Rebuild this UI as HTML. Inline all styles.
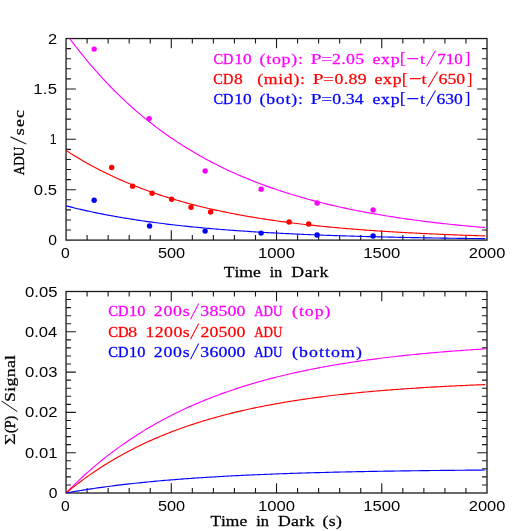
<!DOCTYPE html>
<html><head><meta charset="utf-8"><title>Persistence decay</title>
<style>html,body{margin:0;padding:0;background:#fff}svg{display:block;will-change:transform}text{font-family:"Liberation Serif",serif;font-kerning:none;white-space:pre}text.s{font-family:"Liberation Sans",sans-serif}</style></head><body>
<svg width="531" height="531" viewBox="0 0 531 531">
<rect width="531" height="531" fill="#fff"/>
<defs><clipPath id="c1"><rect x="66.05" y="38.55" width="420.95" height="201.55"/></clipPath><clipPath id="c2"><rect x="66.05" y="291.5" width="420.95" height="201.5"/></clipPath></defs>
<path d="M87.10,240.1v-5.0M87.10,38.55v5.0M108.14,240.1v-5.0M108.14,38.55v5.0M129.19,240.1v-5.0M129.19,38.55v5.0M150.24,240.1v-5.0M150.24,38.55v5.0M171.29,240.1v-9.8M171.29,38.55v9.8M192.33,240.1v-5.0M192.33,38.55v5.0M213.38,240.1v-5.0M213.38,38.55v5.0M234.43,240.1v-5.0M234.43,38.55v5.0M255.48,240.1v-5.0M255.48,38.55v5.0M276.52,240.1v-9.8M276.52,38.55v9.8M297.57,240.1v-5.0M297.57,38.55v5.0M318.62,240.1v-5.0M318.62,38.55v5.0M339.67,240.1v-5.0M339.67,38.55v5.0M360.72,240.1v-5.0M360.72,38.55v5.0M381.76,240.1v-9.8M381.76,38.55v9.8M402.81,240.1v-5.0M402.81,38.55v5.0M423.86,240.1v-5.0M423.86,38.55v5.0M444.91,240.1v-5.0M444.91,38.55v5.0M465.95,240.1v-5.0M465.95,38.55v5.0M66.05,230.02h5.0M487.0,230.02h-5.0M66.05,219.94h5.0M487.0,219.94h-5.0M66.05,209.87h5.0M487.0,209.87h-5.0M66.05,199.79h5.0M487.0,199.79h-5.0M66.05,189.71h9.8M487.0,189.71h-9.8M66.05,179.63h5.0M487.0,179.63h-5.0M66.05,169.56h5.0M487.0,169.56h-5.0M66.05,159.48h5.0M487.0,159.48h-5.0M66.05,149.40h5.0M487.0,149.40h-5.0M66.05,139.32h9.8M487.0,139.32h-9.8M66.05,129.25h5.0M487.0,129.25h-5.0M66.05,119.17h5.0M487.0,119.17h-5.0M66.05,109.09h5.0M487.0,109.09h-5.0M66.05,99.01h5.0M487.0,99.01h-5.0M66.05,88.94h9.8M487.0,88.94h-9.8M66.05,78.86h5.0M487.0,78.86h-5.0M66.05,68.78h5.0M487.0,68.78h-5.0M66.05,58.70h5.0M487.0,58.70h-5.0M66.05,48.63h5.0M487.0,48.63h-5.0" stroke="#1a1a1a" stroke-width="1.1" fill="none"/>
<rect x="66.05" y="38.55" width="420.95" height="201.55" fill="none" stroke="#1a1a1a" stroke-width="1.3"/>
<path d="M87.10,493.0v-5.0M87.10,291.5v5.0M108.14,493.0v-5.0M108.14,291.5v5.0M129.19,493.0v-5.0M129.19,291.5v5.0M150.24,493.0v-5.0M150.24,291.5v5.0M171.29,493.0v-9.8M171.29,291.5v9.8M192.33,493.0v-5.0M192.33,291.5v5.0M213.38,493.0v-5.0M213.38,291.5v5.0M234.43,493.0v-5.0M234.43,291.5v5.0M255.48,493.0v-5.0M255.48,291.5v5.0M276.52,493.0v-9.8M276.52,291.5v9.8M297.57,493.0v-5.0M297.57,291.5v5.0M318.62,493.0v-5.0M318.62,291.5v5.0M339.67,493.0v-5.0M339.67,291.5v5.0M360.72,493.0v-5.0M360.72,291.5v5.0M381.76,493.0v-9.8M381.76,291.5v9.8M402.81,493.0v-5.0M402.81,291.5v5.0M423.86,493.0v-5.0M423.86,291.5v5.0M444.91,493.0v-5.0M444.91,291.5v5.0M465.95,493.0v-5.0M465.95,291.5v5.0M66.05,484.94h5.0M487.0,484.94h-5.0M66.05,476.88h5.0M487.0,476.88h-5.0M66.05,468.82h5.0M487.0,468.82h-5.0M66.05,460.76h5.0M487.0,460.76h-5.0M66.05,452.70h9.8M487.0,452.70h-9.8M66.05,444.64h5.0M487.0,444.64h-5.0M66.05,436.58h5.0M487.0,436.58h-5.0M66.05,428.52h5.0M487.0,428.52h-5.0M66.05,420.46h5.0M487.0,420.46h-5.0M66.05,412.40h9.8M487.0,412.40h-9.8M66.05,404.34h5.0M487.0,404.34h-5.0M66.05,396.28h5.0M487.0,396.28h-5.0M66.05,388.22h5.0M487.0,388.22h-5.0M66.05,380.16h5.0M487.0,380.16h-5.0M66.05,372.10h9.8M487.0,372.10h-9.8M66.05,364.04h5.0M487.0,364.04h-5.0M66.05,355.98h5.0M487.0,355.98h-5.0M66.05,347.92h5.0M487.0,347.92h-5.0M66.05,339.86h5.0M487.0,339.86h-5.0M66.05,331.80h9.8M487.0,331.80h-9.8M66.05,323.74h5.0M487.0,323.74h-5.0M66.05,315.68h5.0M487.0,315.68h-5.0M66.05,307.62h5.0M487.0,307.62h-5.0M66.05,299.56h5.0M487.0,299.56h-5.0" stroke="#1a1a1a" stroke-width="1.1" fill="none"/>
<rect x="66.05" y="291.5" width="420.95" height="201.5" fill="none" stroke="#1a1a1a" stroke-width="1.3"/>
<path d="M66.05,33.51 L68.15,36.39 L70.24,39.23 L72.34,42.03 L74.44,44.78 L76.53,47.51 L78.63,50.19 L80.72,52.83 L82.82,55.44 L84.92,58.01 L87.01,60.55 L89.11,63.05 L91.21,65.52 L93.30,67.95 L95.40,70.35 L97.49,72.71 L99.59,75.04 L101.69,77.34 L103.78,79.61 L105.88,81.85 L107.98,84.05 L110.07,86.23 L112.17,88.37 L114.27,90.48 L116.36,92.57 L118.46,94.62 L120.55,96.65 L122.65,98.65 L124.75,100.62 L126.84,102.56 L128.94,104.48 L131.04,106.37 L133.13,108.23 L135.23,110.07 L137.33,111.88 L139.42,113.66 L141.52,115.42 L143.61,117.16 L145.71,118.87 L147.81,120.56 L149.90,122.23 L152.00,123.87 L154.10,125.49 L156.19,127.09 L158.29,128.66 L160.38,130.21 L162.48,131.74 L164.58,133.25 L166.67,134.74 L168.77,136.21 L170.87,137.66 L172.96,139.08 L175.06,140.49 L177.16,141.88 L179.25,143.25 L181.35,144.59 L183.44,145.93 L185.54,147.24 L187.64,148.53 L189.73,149.81 L191.83,151.06 L193.93,152.30 L196.02,153.53 L198.12,154.73 L200.22,155.92 L202.31,157.10 L204.41,158.25 L206.50,159.39 L208.60,160.52 L210.70,161.62 L212.79,162.72 L214.89,163.80 L216.99,164.86 L219.08,165.91 L221.18,166.94 L223.27,167.96 L225.37,168.96 L227.47,169.96 L229.56,170.93 L231.66,171.90 L233.76,172.85 L235.85,173.78 L237.95,174.71 L240.05,175.62 L242.14,176.52 L244.24,177.40 L246.33,178.28 L248.43,179.14 L250.53,179.99 L252.62,180.82 L254.72,181.65 L256.82,182.46 L258.91,183.27 L261.01,184.06 L263.11,184.84 L265.20,185.61 L267.30,186.37 L269.39,187.12 L271.49,187.85 L273.59,188.58 L275.68,189.30 L277.78,190.01 L279.88,190.70 L281.97,191.39 L284.07,192.07 L286.16,192.74 L288.26,193.40 L290.36,194.05 L292.45,194.69 L294.55,195.32 L296.65,195.95 L298.74,196.56 L300.84,197.17 L302.94,197.77 L305.03,198.36 L307.13,198.94 L309.22,199.51 L311.32,200.08 L313.42,200.64 L315.51,201.19 L317.61,201.73 L319.71,202.26 L321.80,202.79 L323.90,203.31 L326.00,203.82 L328.09,204.33 L330.19,204.82 L332.28,205.32 L334.38,205.80 L336.48,206.28 L338.57,206.75 L340.67,207.21 L342.77,207.67 L344.86,208.12 L346.96,208.57 L349.05,209.01 L351.15,209.44 L353.25,209.87 L355.34,210.29 L357.44,210.71 L359.54,211.11 L361.63,211.52 L363.73,211.92 L365.83,212.31 L367.92,212.70 L370.02,213.08 L372.11,213.45 L374.21,213.83 L376.31,214.19 L378.40,214.55 L380.50,214.91 L382.60,215.26 L384.69,215.61 L386.79,215.95 L388.88,216.28 L390.98,216.61 L393.08,216.94 L395.17,217.26 L397.27,217.58 L399.37,217.90 L401.46,218.21 L403.56,218.51 L405.66,218.81 L407.75,219.11 L409.85,219.40 L411.94,219.69 L414.04,219.97 L416.14,220.25 L418.23,220.53 L420.33,220.80 L422.43,221.07 L424.52,221.34 L426.62,221.60 L428.72,221.86 L430.81,222.11 L432.91,222.36 L435.00,222.61 L437.10,222.85 L439.20,223.09 L441.29,223.33 L443.39,223.56 L445.49,223.79 L447.58,224.02 L449.68,224.24 L451.77,224.46 L453.87,224.68 L455.97,224.90 L458.06,225.11 L460.16,225.32 L462.26,225.52 L464.35,225.73 L466.45,225.93 L468.55,226.12 L470.64,226.32 L472.74,226.51 L474.83,226.70 L476.93,226.89 L479.03,227.07 L481.12,227.25 L483.22,227.43 L485.32,227.61" fill="none" stroke="#ff00ff" stroke-width="1.15" stroke-linejoin="round" clip-path="url(#c1)"/>
<path d="M66.05,150.41 L68.15,151.77 L70.24,153.12 L72.34,154.44 L74.44,155.74 L76.53,157.03 L78.63,158.29 L80.72,159.53 L82.82,160.76 L84.92,161.96 L87.01,163.15 L89.11,164.32 L91.21,165.47 L93.30,166.61 L95.40,167.73 L97.49,168.83 L99.59,169.91 L101.69,170.98 L103.78,172.03 L105.88,173.06 L107.98,174.08 L110.07,175.09 L112.17,176.08 L114.27,177.05 L116.36,178.01 L118.46,178.95 L120.55,179.88 L122.65,180.80 L124.75,181.70 L126.84,182.59 L128.94,183.46 L131.04,184.32 L133.13,185.17 L135.23,186.01 L137.33,186.83 L139.42,187.64 L141.52,188.44 L143.61,189.22 L145.71,190.00 L147.81,190.76 L149.90,191.51 L152.00,192.25 L154.10,192.98 L156.19,193.69 L158.29,194.40 L160.38,195.09 L162.48,195.78 L164.58,196.45 L166.67,197.12 L168.77,197.77 L170.87,198.41 L172.96,199.05 L175.06,199.67 L177.16,200.29 L179.25,200.89 L181.35,201.49 L183.44,202.07 L185.54,202.65 L187.64,203.22 L189.73,203.78 L191.83,204.33 L193.93,204.88 L196.02,205.41 L198.12,205.94 L200.22,206.46 L202.31,206.97 L204.41,207.48 L206.50,207.97 L208.60,208.46 L210.70,208.94 L212.79,209.42 L214.89,209.88 L216.99,210.34 L219.08,210.79 L221.18,211.24 L223.27,211.68 L225.37,212.11 L227.47,212.54 L229.56,212.96 L231.66,213.37 L233.76,213.78 L235.85,214.18 L237.95,214.57 L240.05,214.96 L242.14,215.34 L244.24,215.72 L246.33,216.09 L248.43,216.45 L250.53,216.81 L252.62,217.17 L254.72,217.52 L256.82,217.86 L258.91,218.20 L261.01,218.53 L263.11,218.86 L265.20,219.18 L267.30,219.50 L269.39,219.81 L271.49,220.12 L273.59,220.42 L275.68,220.72 L277.78,221.02 L279.88,221.31 L281.97,221.59 L284.07,221.88 L286.16,222.15 L288.26,222.43 L290.36,222.69 L292.45,222.96 L294.55,223.22 L296.65,223.48 L298.74,223.73 L300.84,223.98 L302.94,224.22 L305.03,224.46 L307.13,224.70 L309.22,224.94 L311.32,225.17 L313.42,225.39 L315.51,225.62 L317.61,225.84 L319.71,226.06 L321.80,226.27 L323.90,226.48 L326.00,226.69 L328.09,226.89 L330.19,227.09 L332.28,227.29 L334.38,227.48 L336.48,227.68 L338.57,227.86 L340.67,228.05 L342.77,228.23 L344.86,228.41 L346.96,228.59 L349.05,228.77 L351.15,228.94 L353.25,229.11 L355.34,229.28 L357.44,229.44 L359.54,229.60 L361.63,229.76 L363.73,229.92 L365.83,230.07 L367.92,230.23 L370.02,230.38 L372.11,230.52 L374.21,230.67 L376.31,230.81 L378.40,230.95 L380.50,231.09 L382.60,231.23 L384.69,231.37 L386.79,231.50 L388.88,231.63 L390.98,231.76 L393.08,231.89 L395.17,232.01 L397.27,232.13 L399.37,232.25 L401.46,232.37 L403.56,232.49 L405.66,232.61 L407.75,232.72 L409.85,232.83 L411.94,232.94 L414.04,233.05 L416.14,233.16 L418.23,233.26 L420.33,233.37 L422.43,233.47 L424.52,233.57 L426.62,233.67 L428.72,233.77 L430.81,233.87 L432.91,233.96 L435.00,234.05 L437.10,234.15 L439.20,234.24 L441.29,234.33 L443.39,234.41 L445.49,234.50 L447.58,234.58 L449.68,234.67 L451.77,234.75 L453.87,234.83 L455.97,234.91 L458.06,234.99 L460.16,235.07 L462.26,235.15 L464.35,235.22 L466.45,235.30 L468.55,235.37 L470.64,235.44 L472.74,235.51 L474.83,235.58 L476.93,235.65 L479.03,235.72 L481.12,235.78 L483.22,235.85 L485.32,235.91" fill="none" stroke="#ff0000" stroke-width="1.15" stroke-linejoin="round" clip-path="url(#c1)"/>
<path d="M66.05,205.84 L68.15,206.37 L70.24,206.90 L72.34,207.42 L74.44,207.94 L76.53,208.44 L78.63,208.94 L80.72,209.43 L82.82,209.91 L84.92,210.38 L87.01,210.85 L89.11,211.31 L91.21,211.76 L93.30,212.20 L95.40,212.64 L97.49,213.07 L99.59,213.49 L101.69,213.91 L103.78,214.32 L105.88,214.73 L107.98,215.12 L110.07,215.52 L112.17,215.90 L114.27,216.28 L116.36,216.66 L118.46,217.02 L120.55,217.38 L122.65,217.74 L124.75,218.09 L126.84,218.44 L128.94,218.78 L131.04,219.11 L133.13,219.44 L135.23,219.76 L137.33,220.08 L139.42,220.40 L141.52,220.71 L143.61,221.01 L145.71,221.31 L147.81,221.60 L149.90,221.89 L152.00,222.18 L154.10,222.46 L156.19,222.74 L158.29,223.01 L160.38,223.28 L162.48,223.54 L164.58,223.80 L166.67,224.06 L168.77,224.31 L170.87,224.56 L172.96,224.80 L175.06,225.04 L177.16,225.28 L179.25,225.51 L181.35,225.74 L183.44,225.96 L185.54,226.19 L187.64,226.40 L189.73,226.62 L191.83,226.83 L193.93,227.04 L196.02,227.24 L198.12,227.44 L200.22,227.64 L202.31,227.84 L204.41,228.03 L206.50,228.22 L208.60,228.41 L210.70,228.59 L212.79,228.77 L214.89,228.95 L216.99,229.12 L219.08,229.30 L221.18,229.46 L223.27,229.63 L225.37,229.80 L227.47,229.96 L229.56,230.12 L231.66,230.27 L233.76,230.43 L235.85,230.58 L237.95,230.73 L240.05,230.88 L242.14,231.02 L244.24,231.16 L246.33,231.30 L248.43,231.44 L250.53,231.58 L252.62,231.71 L254.72,231.84 L256.82,231.97 L258.91,232.10 L261.01,232.22 L263.11,232.35 L265.20,232.47 L267.30,232.59 L269.39,232.71 L271.49,232.82 L273.59,232.94 L275.68,233.05 L277.78,233.16 L279.88,233.27 L281.97,233.38 L284.07,233.48 L286.16,233.59 L288.26,233.69 L290.36,233.79 L292.45,233.89 L294.55,233.98 L296.65,234.08 L298.74,234.17 L300.84,234.27 L302.94,234.36 L305.03,234.45 L307.13,234.54 L309.22,234.63 L311.32,234.71 L313.42,234.80 L315.51,234.88 L317.61,234.96 L319.71,235.04 L321.80,235.12 L323.90,235.20 L326.00,235.28 L328.09,235.35 L330.19,235.43 L332.28,235.50 L334.38,235.57 L336.48,235.64 L338.57,235.71 L340.67,235.78 L342.77,235.85 L344.86,235.92 L346.96,235.98 L349.05,236.05 L351.15,236.11 L353.25,236.17 L355.34,236.23 L357.44,236.29 L359.54,236.35 L361.63,236.41 L363.73,236.47 L365.83,236.53 L367.92,236.58 L370.02,236.64 L372.11,236.69 L374.21,236.75 L376.31,236.80 L378.40,236.85 L380.50,236.90 L382.60,236.95 L384.69,237.00 L386.79,237.05 L388.88,237.10 L390.98,237.14 L393.08,237.19 L395.17,237.24 L397.27,237.28 L399.37,237.33 L401.46,237.37 L403.56,237.41 L405.66,237.45 L407.75,237.50 L409.85,237.54 L411.94,237.58 L414.04,237.62 L416.14,237.66 L418.23,237.69 L420.33,237.73 L422.43,237.77 L424.52,237.81 L426.62,237.84 L428.72,237.88 L430.81,237.91 L432.91,237.95 L435.00,237.98 L437.10,238.01 L439.20,238.05 L441.29,238.08 L443.39,238.11 L445.49,238.14 L447.58,238.17 L449.68,238.20 L451.77,238.23 L453.87,238.26 L455.97,238.29 L458.06,238.32 L460.16,238.35 L462.26,238.37 L464.35,238.40 L466.45,238.43 L468.55,238.45 L470.64,238.48 L472.74,238.50 L474.83,238.53 L476.93,238.55 L479.03,238.58 L481.12,238.60 L483.22,238.63 L485.32,238.65" fill="none" stroke="#0000ff" stroke-width="1.15" stroke-linejoin="round" clip-path="url(#c1)"/>
<circle cx="94.14" cy="49.08" r="2.7" fill="#ff00ff"/>
<circle cx="149.16" cy="118.61" r="2.7" fill="#ff00ff"/>
<circle cx="205.14" cy="171.02" r="2.7" fill="#ff00ff"/>
<circle cx="261.13" cy="189.15" r="2.7" fill="#ff00ff"/>
<circle cx="317.12" cy="203.06" r="2.7" fill="#ff00ff"/>
<circle cx="373.10" cy="210.02" r="2.7" fill="#ff00ff"/>
<circle cx="111.69" cy="167.49" r="2.7" fill="#ff0000"/>
<circle cx="132.63" cy="186.13" r="2.7" fill="#ff0000"/>
<circle cx="152.10" cy="193.19" r="2.7" fill="#ff0000"/>
<circle cx="171.68" cy="199.23" r="2.7" fill="#ff0000"/>
<circle cx="191.04" cy="207.29" r="2.7" fill="#ff0000"/>
<circle cx="210.61" cy="212.03" r="2.7" fill="#ff0000"/>
<circle cx="289.12" cy="222.01" r="2.7" fill="#ff0000"/>
<circle cx="308.70" cy="224.02" r="2.7" fill="#ff0000"/>
<circle cx="94.14" cy="200.24" r="2.7" fill="#0000ff"/>
<circle cx="149.58" cy="226.04" r="2.7" fill="#0000ff"/>
<circle cx="205.14" cy="231.08" r="2.7" fill="#0000ff"/>
<circle cx="261.13" cy="233.09" r="2.7" fill="#0000ff"/>
<circle cx="317.12" cy="235.01" r="2.7" fill="#0000ff"/>
<circle cx="373.10" cy="236.02" r="2.7" fill="#0000ff"/>
<path d="M66.05,493.00 L68.15,490.86 L70.24,488.76 L72.34,486.68 L74.44,484.63 L76.53,482.61 L78.63,480.62 L80.72,478.65 L82.82,476.71 L84.92,474.80 L87.01,472.92 L89.11,471.06 L91.21,469.23 L93.30,467.42 L95.40,465.64 L97.49,463.89 L99.59,462.16 L101.69,460.45 L103.78,458.76 L105.88,457.10 L107.98,455.47 L110.07,453.85 L112.17,452.26 L114.27,450.69 L116.36,449.14 L118.46,447.62 L120.55,446.11 L122.65,444.63 L124.75,443.16 L126.84,441.72 L128.94,440.30 L131.04,438.90 L133.13,437.51 L135.23,436.15 L137.33,434.80 L139.42,433.48 L141.52,432.17 L143.61,430.88 L145.71,429.61 L147.81,428.35 L149.90,427.12 L152.00,425.90 L154.10,424.69 L156.19,423.51 L158.29,422.34 L160.38,421.19 L162.48,420.05 L164.58,418.93 L166.67,417.82 L168.77,416.73 L170.87,415.66 L172.96,414.60 L175.06,413.55 L177.16,412.52 L179.25,411.51 L181.35,410.50 L183.44,409.52 L185.54,408.54 L187.64,407.58 L189.73,406.63 L191.83,405.70 L193.93,404.78 L196.02,403.87 L198.12,402.98 L200.22,402.09 L202.31,401.22 L204.41,400.36 L206.50,399.52 L208.60,398.68 L210.70,397.86 L212.79,397.05 L214.89,396.24 L216.99,395.46 L219.08,394.68 L221.18,393.91 L223.27,393.15 L225.37,392.41 L227.47,391.67 L229.56,390.94 L231.66,390.23 L233.76,389.52 L235.85,388.83 L237.95,388.14 L240.05,387.47 L242.14,386.80 L244.24,386.14 L246.33,385.49 L248.43,384.85 L250.53,384.22 L252.62,383.60 L254.72,382.99 L256.82,382.38 L258.91,381.79 L261.01,381.20 L263.11,380.62 L265.20,380.05 L267.30,379.48 L269.39,378.93 L271.49,378.38 L273.59,377.84 L275.68,377.30 L277.78,376.78 L279.88,376.26 L281.97,375.75 L284.07,375.25 L286.16,374.75 L288.26,374.26 L290.36,373.78 L292.45,373.30 L294.55,372.83 L296.65,372.37 L298.74,371.91 L300.84,371.46 L302.94,371.02 L305.03,370.58 L307.13,370.15 L309.22,369.72 L311.32,369.30 L313.42,368.89 L315.51,368.48 L317.61,368.08 L319.71,367.68 L321.80,367.29 L323.90,366.90 L326.00,366.52 L328.09,366.14 L330.19,365.77 L332.28,365.41 L334.38,365.05 L336.48,364.70 L338.57,364.35 L340.67,364.00 L342.77,363.66 L344.86,363.32 L346.96,362.99 L349.05,362.67 L351.15,362.35 L353.25,362.03 L355.34,361.72 L357.44,361.41 L359.54,361.10 L361.63,360.80 L363.73,360.51 L365.83,360.22 L367.92,359.93 L370.02,359.65 L372.11,359.37 L374.21,359.09 L376.31,358.82 L378.40,358.55 L380.50,358.29 L382.60,358.03 L384.69,357.77 L386.79,357.52 L388.88,357.27 L390.98,357.02 L393.08,356.78 L395.17,356.54 L397.27,356.30 L399.37,356.07 L401.46,355.84 L403.56,355.61 L405.66,355.39 L407.75,355.17 L409.85,354.95 L411.94,354.74 L414.04,354.52 L416.14,354.32 L418.23,354.11 L420.33,353.91 L422.43,353.71 L424.52,353.51 L426.62,353.32 L428.72,353.13 L430.81,352.94 L432.91,352.75 L435.00,352.57 L437.10,352.39 L439.20,352.21 L441.29,352.03 L443.39,351.86 L445.49,351.69 L447.58,351.52 L449.68,351.35 L451.77,351.19 L453.87,351.03 L455.97,350.87 L458.06,350.71 L460.16,350.56 L462.26,350.40 L464.35,350.25 L466.45,350.10 L468.55,349.96 L470.64,349.81 L472.74,349.67 L474.83,349.53 L476.93,349.39 L479.03,349.25 L481.12,349.12 L483.22,348.99 L485.32,348.86" fill="none" stroke="#ff00ff" stroke-width="1.15" stroke-linejoin="round" clip-path="url(#c2)"/>
<path d="M66.05,493.00 L68.15,491.27 L70.24,489.57 L72.34,487.89 L74.44,486.24 L76.53,484.61 L78.63,483.01 L80.72,481.43 L82.82,479.88 L84.92,478.35 L87.01,476.84 L89.11,475.36 L91.21,473.90 L93.30,472.46 L95.40,471.04 L97.49,469.65 L99.59,468.27 L101.69,466.92 L103.78,465.59 L105.88,464.27 L107.98,462.98 L110.07,461.71 L112.17,460.46 L114.27,459.22 L116.36,458.01 L118.46,456.81 L120.55,455.63 L122.65,454.47 L124.75,453.32 L126.84,452.20 L128.94,451.09 L131.04,450.00 L133.13,448.92 L135.23,447.86 L137.33,446.82 L139.42,445.79 L141.52,444.78 L143.61,443.79 L145.71,442.80 L147.81,441.84 L149.90,440.89 L152.00,439.95 L154.10,439.03 L156.19,438.12 L158.29,437.22 L160.38,436.34 L162.48,435.48 L164.58,434.62 L166.67,433.78 L168.77,432.95 L170.87,432.13 L172.96,431.33 L175.06,430.54 L177.16,429.76 L179.25,428.99 L181.35,428.24 L183.44,427.49 L185.54,426.76 L187.64,426.04 L189.73,425.32 L191.83,424.62 L193.93,423.94 L196.02,423.26 L198.12,422.59 L200.22,421.93 L202.31,421.28 L204.41,420.64 L206.50,420.01 L208.60,419.39 L210.70,418.78 L212.79,418.18 L214.89,417.59 L216.99,417.01 L219.08,416.43 L221.18,415.87 L223.27,415.31 L225.37,414.76 L227.47,414.22 L229.56,413.69 L231.66,413.17 L233.76,412.65 L235.85,412.15 L237.95,411.65 L240.05,411.15 L242.14,410.67 L244.24,410.19 L246.33,409.72 L248.43,409.26 L250.53,408.80 L252.62,408.35 L254.72,407.91 L256.82,407.48 L258.91,407.05 L261.01,406.63 L263.11,406.21 L265.20,405.80 L267.30,405.40 L269.39,405.00 L271.49,404.61 L273.59,404.22 L275.68,403.84 L277.78,403.47 L279.88,403.10 L281.97,402.74 L284.07,402.38 L286.16,402.03 L288.26,401.69 L290.36,401.35 L292.45,401.01 L294.55,400.68 L296.65,400.35 L298.74,400.03 L300.84,399.72 L302.94,399.41 L305.03,399.10 L307.13,398.80 L309.22,398.50 L311.32,398.21 L313.42,397.92 L315.51,397.64 L317.61,397.36 L319.71,397.08 L321.80,396.81 L323.90,396.55 L326.00,396.28 L328.09,396.03 L330.19,395.77 L332.28,395.52 L334.38,395.27 L336.48,395.03 L338.57,394.79 L340.67,394.55 L342.77,394.32 L344.86,394.09 L346.96,393.87 L349.05,393.65 L351.15,393.43 L353.25,393.21 L355.34,393.00 L357.44,392.79 L359.54,392.59 L361.63,392.38 L363.73,392.18 L365.83,391.99 L367.92,391.79 L370.02,391.60 L372.11,391.42 L374.21,391.23 L376.31,391.05 L378.40,390.87 L380.50,390.69 L382.60,390.52 L384.69,390.35 L386.79,390.18 L388.88,390.02 L390.98,389.85 L393.08,389.69 L395.17,389.53 L397.27,389.38 L399.37,389.22 L401.46,389.07 L403.56,388.92 L405.66,388.78 L407.75,388.63 L409.85,388.49 L411.94,388.35 L414.04,388.21 L416.14,388.08 L418.23,387.94 L420.33,387.81 L422.43,387.68 L424.52,387.55 L426.62,387.43 L428.72,387.30 L430.81,387.18 L432.91,387.06 L435.00,386.94 L437.10,386.83 L439.20,386.71 L441.29,386.60 L443.39,386.49 L445.49,386.38 L447.58,386.27 L449.68,386.16 L451.77,386.06 L453.87,385.95 L455.97,385.85 L458.06,385.75 L460.16,385.65 L462.26,385.56 L464.35,385.46 L466.45,385.37 L468.55,385.28 L470.64,385.18 L472.74,385.09 L474.83,385.01 L476.93,384.92 L479.03,384.83 L481.12,384.75 L483.22,384.67 L485.32,384.58" fill="none" stroke="#ff0000" stroke-width="1.15" stroke-linejoin="round" clip-path="url(#c2)"/>
<path d="M66.05,493.00 L68.15,492.62 L70.24,492.25 L72.34,491.89 L74.44,491.53 L76.53,491.18 L78.63,490.83 L80.72,490.49 L82.82,490.15 L84.92,489.82 L87.01,489.49 L89.11,489.17 L91.21,488.86 L93.30,488.55 L95.40,488.24 L97.49,487.94 L99.59,487.64 L101.69,487.35 L103.78,487.06 L105.88,486.78 L107.98,486.50 L110.07,486.23 L112.17,485.96 L114.27,485.69 L116.36,485.43 L118.46,485.17 L120.55,484.92 L122.65,484.67 L124.75,484.42 L126.84,484.18 L128.94,483.94 L131.04,483.71 L133.13,483.48 L135.23,483.25 L137.33,483.03 L139.42,482.81 L141.52,482.59 L143.61,482.38 L145.71,482.17 L147.81,481.96 L149.90,481.76 L152.00,481.56 L154.10,481.37 L156.19,481.17 L158.29,480.98 L160.38,480.79 L162.48,480.61 L164.58,480.43 L166.67,480.25 L168.77,480.07 L170.87,479.90 L172.96,479.73 L175.06,479.56 L177.16,479.39 L179.25,479.23 L181.35,479.07 L183.44,478.91 L185.54,478.76 L187.64,478.61 L189.73,478.46 L191.83,478.31 L193.93,478.16 L196.02,478.02 L198.12,477.88 L200.22,477.74 L202.31,477.60 L204.41,477.47 L206.50,477.34 L208.60,477.20 L210.70,477.08 L212.79,476.95 L214.89,476.83 L216.99,476.70 L219.08,476.58 L221.18,476.46 L223.27,476.35 L225.37,476.23 L227.47,476.12 L229.56,476.01 L231.66,475.90 L233.76,475.79 L235.85,475.68 L237.95,475.58 L240.05,475.48 L242.14,475.38 L244.24,475.28 L246.33,475.18 L248.43,475.08 L250.53,474.99 L252.62,474.89 L254.72,474.80 L256.82,474.71 L258.91,474.62 L261.01,474.53 L263.11,474.45 L265.20,474.36 L267.30,474.28 L269.39,474.20 L271.49,474.11 L273.59,474.03 L275.68,473.96 L277.78,473.88 L279.88,473.80 L281.97,473.73 L284.07,473.65 L286.16,473.58 L288.26,473.51 L290.36,473.44 L292.45,473.37 L294.55,473.30 L296.65,473.23 L298.74,473.17 L300.84,473.10 L302.94,473.04 L305.03,472.98 L307.13,472.91 L309.22,472.85 L311.32,472.79 L313.42,472.73 L315.51,472.68 L317.61,472.62 L319.71,472.56 L321.80,472.51 L323.90,472.45 L326.00,472.40 L328.09,472.34 L330.19,472.29 L332.28,472.24 L334.38,472.19 L336.48,472.14 L338.57,472.09 L340.67,472.04 L342.77,472.00 L344.86,471.95 L346.96,471.90 L349.05,471.86 L351.15,471.81 L353.25,471.77 L355.34,471.73 L357.44,471.68 L359.54,471.64 L361.63,471.60 L363.73,471.56 L365.83,471.52 L367.92,471.48 L370.02,471.44 L372.11,471.41 L374.21,471.37 L376.31,471.33 L378.40,471.30 L380.50,471.26 L382.60,471.22 L384.69,471.19 L386.79,471.16 L388.88,471.12 L390.98,471.09 L393.08,471.06 L395.17,471.03 L397.27,470.99 L399.37,470.96 L401.46,470.93 L403.56,470.90 L405.66,470.87 L407.75,470.84 L409.85,470.82 L411.94,470.79 L414.04,470.76 L416.14,470.73 L418.23,470.71 L420.33,470.68 L422.43,470.65 L424.52,470.63 L426.62,470.60 L428.72,470.58 L430.81,470.55 L432.91,470.53 L435.00,470.51 L437.10,470.48 L439.20,470.46 L441.29,470.44 L443.39,470.41 L445.49,470.39 L447.58,470.37 L449.68,470.35 L451.77,470.33 L453.87,470.31 L455.97,470.29 L458.06,470.27 L460.16,470.25 L462.26,470.23 L464.35,470.21 L466.45,470.19 L468.55,470.17 L470.64,470.16 L472.74,470.14 L474.83,470.12 L476.93,470.10 L479.03,470.09 L481.12,470.07 L483.22,470.05 L485.32,470.04" fill="none" stroke="#0000ff" stroke-width="1.15" stroke-linejoin="round" clip-path="url(#c2)"/>
<text transform="translate(61.09,258.40) scale(1.0746,1)" font-size="14.6" fill="#000" stroke="#000" stroke-width="0.00" class="s">0</text>
<text transform="translate(61.09,510.90) scale(1.0746,1)" font-size="14.6" fill="#000" stroke="#000" stroke-width="0.00" class="s">0</text>
<text transform="translate(157.89,258.40) scale(1.1162,1)" font-size="14.6" fill="#000" stroke="#000" stroke-width="0.00" class="s">500</text>
<text transform="translate(157.89,510.90) scale(1.1162,1)" font-size="14.6" fill="#000" stroke="#000" stroke-width="0.00" class="s">500</text>
<text transform="translate(257.91,258.40) scale(1.1397,1)" font-size="14.6" fill="#000" stroke="#000" stroke-width="0.00" class="s">1000</text>
<text transform="translate(257.91,510.90) scale(1.1397,1)" font-size="14.6" fill="#000" stroke="#000" stroke-width="0.00" class="s">1000</text>
<text transform="translate(363.14,258.40) scale(1.1397,1)" font-size="14.6" fill="#000" stroke="#000" stroke-width="0.00" class="s">1500</text>
<text transform="translate(363.14,510.90) scale(1.1397,1)" font-size="14.6" fill="#000" stroke="#000" stroke-width="0.00" class="s">1500</text>
<text transform="translate(468.82,258.40) scale(1.1259,1)" font-size="14.6" fill="#000" stroke="#000" stroke-width="0.00" class="s">2000</text>
<text transform="translate(468.82,510.90) scale(1.1259,1)" font-size="14.6" fill="#000" stroke="#000" stroke-width="0.00" class="s">2000</text>
<text transform="translate(48.29,245.10) scale(1.0746,1)" font-size="14.6" fill="#000" stroke="#000" stroke-width="0.00" class="s">0</text>
<text transform="translate(33.85,194.71) scale(1.1400,1)" font-size="14.6" fill="#000" stroke="#000" stroke-width="0.00" letter-spacing="0.049" class="s">0.5</text>
<text transform="translate(49.86,144.32) scale(0.8420,1)" font-size="14.6" fill="#000" stroke="#000" stroke-width="0.00" class="s">1</text>
<text transform="translate(33.23,93.94) scale(1.1400,1)" font-size="14.6" fill="#000" stroke="#000" stroke-width="0.00" letter-spacing="0.320" class="s">1.5</text>
<text transform="translate(48.07,43.55) scale(1.1276,1)" font-size="14.6" fill="#000" stroke="#000" stroke-width="0.00" class="s">2</text>
<text transform="translate(48.69,498.00) scale(1.0746,1)" font-size="14.6" fill="#000" stroke="#000" stroke-width="0.00" class="s">0</text>
<text transform="translate(25.05,457.70) scale(1.1400,1)" font-size="14.6" fill="#000" stroke="#000" stroke-width="0.00" letter-spacing="0.049" class="s">0.01</text>
<text transform="translate(25.05,417.40) scale(1.1400,1)" font-size="14.6" fill="#000" stroke="#000" stroke-width="0.00" letter-spacing="0.056" class="s">0.02</text>
<text transform="translate(25.05,377.10) scale(1.1400,1)" font-size="14.6" fill="#000" stroke="#000" stroke-width="0.00" letter-spacing="0.026" class="s">0.03</text>
<text transform="translate(25.05,336.80) scale(1.1343,1)" font-size="14.6" fill="#000" stroke="#000" stroke-width="0.00" class="s">0.04</text>
<text transform="translate(25.05,296.50) scale(1.1400,1)" font-size="14.6" fill="#000" stroke="#000" stroke-width="0.00" letter-spacing="0.016" class="s">0.05</text>
<g><text transform="translate(223.68,276.80) scale(1.1278,1)" font-size="15.6" fill="#000" stroke="#000" stroke-width="0.26">Time</text> <text transform="translate(269.77,276.80) scale(1.0198,1)" font-size="15.6" fill="#000" stroke="#000" stroke-width="0.34">in</text> <text transform="translate(291.29,276.80) scale(1.1400,1)" font-size="15.6" fill="#000" stroke="#000" stroke-width="0.25" letter-spacing="0.486">Dark</text></g>
<g><text transform="translate(210.38,526.10) scale(1.1184,1)" font-size="15.6" fill="#000" stroke="#000" stroke-width="0.27">Time</text> <text transform="translate(256.16,526.10) scale(1.0458,1)" font-size="15.6" fill="#000" stroke="#000" stroke-width="0.32">in</text> <text transform="translate(277.99,526.10) scale(1.1400,1)" font-size="15.6" fill="#000" stroke="#000" stroke-width="0.25" letter-spacing="0.252">Dark</text> <text transform="translate(322.62,526.10) scale(1.1400,1)" font-size="15.6" fill="#000" stroke="#000" stroke-width="0.25" letter-spacing="0.262">(s)</text></g>
<g transform="translate(23.7,0) rotate(-90)"><text transform="translate(-175.13,0.00) scale(0.8344,1)" font-size="15.6" fill="#000" stroke="#000" stroke-width="0.36">ADU</text><text transform="translate(-144.48,2.00) skewX(-6.19)" font-size="23.4" fill="#000">/</text><text transform="translate(-135.13,0.00) scale(1.1400,1)" font-size="15.6" fill="#000" stroke="#000" stroke-width="0.25" letter-spacing="0.995">sec</text></g>
<g transform="translate(14.8,0) rotate(-90)"><text transform="translate(-444.98,0.00) scale(1.2751,1)" font-size="15.6" fill="#000" stroke="#000" stroke-width="0.14">Σ</text><text transform="translate(-432.92,0.00) scale(0.9042,1)" font-size="15.6" fill="#000" stroke="#000" stroke-width="0.36">(P)</text><text transform="translate(-412.03,2.00) skewX(-18.04)" font-size="23.4" fill="#000">/</text><text transform="translate(-401.99,0.00) scale(1.1400,1)" font-size="15.6" fill="#000" stroke="#000" stroke-width="0.25" letter-spacing="0.280">Signal</text></g>
<g><text transform="translate(213.51,63.65) scale(0.9213,1)" font-size="15.6" fill="#ff00ff" stroke="#ff00ff" stroke-width="0.36">CD</text><text transform="translate(234.28,63.65) scale(1.1075,1)" font-size="15.6" fill="#ff00ff" stroke="#ff00ff" stroke-width="0.27">10</text> <text transform="translate(259.52,63.65) scale(1.1400,1)" font-size="15.6" fill="#ff00ff" stroke="#ff00ff" stroke-width="0.25" letter-spacing="0.669">(top):</text> <text transform="translate(310.42,63.65) scale(1.2891,1)" font-size="15.6" fill="#ff00ff" stroke="#ff00ff" stroke-width="0.13">P</text><text transform="translate(321.33,63.65) scale(1.2536,1)" font-size="15.6" fill="#ff00ff" stroke="#ff00ff" stroke-width="0.16">=</text><text transform="translate(332.12,63.65) scale(1.1400,1)" font-size="15.6" fill="#ff00ff" stroke="#ff00ff" stroke-width="0.25" letter-spacing="0.279">2.05</text> <text transform="translate(372.41,63.65) scale(1.1400,1)" font-size="15.6" fill="#ff00ff" stroke="#ff00ff" stroke-width="0.25" letter-spacing="0.707">exp</text><text transform="translate(399.73,64.45) scale(1.0463,1)" font-size="17.6" fill="#ff00ff" stroke="#ff00ff" stroke-width="0.08">[</text><text transform="translate(406.59,63.65) scale(1.4327,1)" font-size="15.6" fill="#ff00ff" stroke="#ff00ff" stroke-width="0.30">−</text><text transform="translate(420.12,63.65) scale(1.1490,1)" font-size="15.6" fill="#ff00ff" stroke="#ff00ff" stroke-width="0.24">t</text><text transform="translate(426.05,66.45) skewX(-12.95)" font-size="23.4" fill="#ff00ff">/</text><text transform="translate(437.28,63.65) scale(1.0929,1)" font-size="15.6" fill="#ff00ff" stroke="#ff00ff" stroke-width="0.29">710</text><text transform="translate(464.68,64.45) scale(0.9697,1)" font-size="17.6" fill="#ff00ff" stroke="#ff00ff" stroke-width="0.08">]</text></g>
<g><text transform="translate(213.31,83.75) scale(0.9213,1)" font-size="15.6" fill="#ff0000" stroke="#ff0000" stroke-width="0.36">CD</text><text transform="translate(233.94,83.75) scale(1.1192,1)" font-size="15.6" fill="#ff0000" stroke="#ff0000" stroke-width="0.26">8</text> <text transform="translate(257.22,83.75) scale(1.1400,1)" font-size="15.6" fill="#ff0000" stroke="#ff0000" stroke-width="0.25" letter-spacing="0.574">(mid):</text> <text transform="translate(312.74,83.75) scale(1.2497,1)" font-size="15.6" fill="#ff0000" stroke="#ff0000" stroke-width="0.16">P</text><text transform="translate(323.34,83.75) scale(1.2398,1)" font-size="15.6" fill="#ff0000" stroke="#ff0000" stroke-width="0.17">=</text><text transform="translate(334.42,83.75) scale(1.1400,1)" font-size="15.6" fill="#ff0000" stroke="#ff0000" stroke-width="0.25" letter-spacing="0.346">0.89</text> <text transform="translate(374.51,83.75) scale(1.1400,1)" font-size="15.6" fill="#ff0000" stroke="#ff0000" stroke-width="0.25" letter-spacing="0.619">exp</text><text transform="translate(401.83,84.55) scale(1.0463,1)" font-size="17.6" fill="#ff0000" stroke="#ff0000" stroke-width="0.08">[</text><text transform="translate(409.09,83.75) scale(1.4327,1)" font-size="15.6" fill="#ff0000" stroke="#ff0000" stroke-width="0.30">−</text><text transform="translate(421.42,83.75) scale(1.1735,1)" font-size="15.6" fill="#ff0000" stroke="#ff0000" stroke-width="0.22">t</text><text transform="translate(427.76,86.55) skewX(-14.33)" font-size="23.4" fill="#ff0000">/</text><text transform="translate(438.54,83.75) scale(1.1384,1)" font-size="15.6" fill="#ff0000" stroke="#ff0000" stroke-width="0.25">650</text><text transform="translate(466.90,84.55) scale(0.9442,1)" font-size="17.6" fill="#ff0000" stroke="#ff0000" stroke-width="0.08">]</text></g>
<g><text transform="translate(213.51,103.65) scale(0.9213,1)" font-size="15.6" fill="#0000ff" stroke="#0000ff" stroke-width="0.36">CD</text><text transform="translate(234.28,103.65) scale(1.1075,1)" font-size="15.6" fill="#0000ff" stroke="#0000ff" stroke-width="0.27">10</text> <text transform="translate(259.52,103.65) scale(1.1400,1)" font-size="15.6" fill="#0000ff" stroke="#0000ff" stroke-width="0.25" letter-spacing="0.669">(bot):</text> <text transform="translate(310.42,103.65) scale(1.2891,1)" font-size="15.6" fill="#0000ff" stroke="#0000ff" stroke-width="0.13">P</text><text transform="translate(321.33,103.65) scale(1.2536,1)" font-size="15.6" fill="#0000ff" stroke="#0000ff" stroke-width="0.16">=</text><text transform="translate(332.22,103.65) scale(1.1400,1)" font-size="15.6" fill="#0000ff" stroke="#0000ff" stroke-width="0.25" letter-spacing="0.127">0.34</text> <text transform="translate(372.41,103.65) scale(1.1400,1)" font-size="15.6" fill="#0000ff" stroke="#0000ff" stroke-width="0.25" letter-spacing="0.707">exp</text><text transform="translate(399.73,104.45) scale(1.0463,1)" font-size="17.6" fill="#0000ff" stroke="#0000ff" stroke-width="0.08">[</text><text transform="translate(406.59,103.65) scale(1.4327,1)" font-size="15.6" fill="#0000ff" stroke="#0000ff" stroke-width="0.30">−</text><text transform="translate(420.12,103.65) scale(1.1490,1)" font-size="15.6" fill="#0000ff" stroke="#0000ff" stroke-width="0.24">t</text><text transform="translate(426.05,106.45) skewX(-12.95)" font-size="23.4" fill="#0000ff">/</text><text transform="translate(436.55,103.65) scale(1.1249,1)" font-size="15.6" fill="#0000ff" stroke="#0000ff" stroke-width="0.26">630</text><text transform="translate(464.68,104.45) scale(0.9697,1)" font-size="17.6" fill="#0000ff" stroke="#0000ff" stroke-width="0.08">]</text></g>
<g><text transform="translate(108.30,315.95) scale(0.9360,1)" font-size="15.6" fill="#ff00ff" stroke="#ff00ff" stroke-width="0.36">CD</text><text transform="translate(128.96,315.95) scale(1.0488,1)" font-size="15.6" fill="#ff00ff" stroke="#ff00ff" stroke-width="0.32">10</text> <text transform="translate(153.72,315.95) scale(1.1400,1)" font-size="15.6" fill="#ff00ff" stroke="#ff00ff" stroke-width="0.25" letter-spacing="0.710">200s</text><text transform="translate(190.04,318.75) skewX(-10.14)" font-size="23.4" fill="#ff00ff">/</text><text transform="translate(200.35,315.95) scale(1.1400,1)" font-size="15.6" fill="#ff00ff" stroke="#ff00ff" stroke-width="0.25" letter-spacing="0.147">38500</text> <text transform="translate(254.17,315.95) scale(0.8374,1)" font-size="15.6" fill="#ff00ff" stroke="#ff00ff" stroke-width="0.36">ADU</text> <text transform="translate(292.02,315.95) scale(1.1400,1)" font-size="15.6" fill="#ff00ff" stroke="#ff00ff" stroke-width="0.25" letter-spacing="0.854">(top)</text></g>
<g><text transform="translate(108.30,336.55) scale(0.9360,1)" font-size="15.6" fill="#ff0000" stroke="#ff0000" stroke-width="0.36">CD</text><text transform="translate(128.10,336.55) scale(1.1797,1)" font-size="15.6" fill="#ff0000" stroke="#ff0000" stroke-width="0.22">8</text> <text transform="translate(145.44,336.55) scale(1.1400,1)" font-size="15.6" fill="#ff0000" stroke="#ff0000" stroke-width="0.25" letter-spacing="0.398">1200s</text><text transform="translate(190.04,339.35) skewX(-10.14)" font-size="23.4" fill="#ff0000">/</text><text transform="translate(200.42,336.55) scale(1.1400,1)" font-size="15.6" fill="#ff0000" stroke="#ff0000" stroke-width="0.25" letter-spacing="0.131">20500</text> <text transform="translate(254.17,336.55) scale(0.8374,1)" font-size="15.6" fill="#ff0000" stroke="#ff0000" stroke-width="0.36">ADU</text></g>
<g><text transform="translate(108.30,356.65) scale(0.9360,1)" font-size="15.6" fill="#0000ff" stroke="#0000ff" stroke-width="0.36">CD</text><text transform="translate(128.96,356.65) scale(1.0488,1)" font-size="15.6" fill="#0000ff" stroke="#0000ff" stroke-width="0.32">10</text> <text transform="translate(153.72,356.65) scale(1.1400,1)" font-size="15.6" fill="#0000ff" stroke="#0000ff" stroke-width="0.25" letter-spacing="0.710">200s</text><text transform="translate(190.04,359.45) skewX(-10.14)" font-size="23.4" fill="#0000ff">/</text><text transform="translate(200.35,356.65) scale(1.1400,1)" font-size="15.6" fill="#0000ff" stroke="#0000ff" stroke-width="0.25" letter-spacing="0.147">36000</text> <text transform="translate(254.17,356.65) scale(0.8374,1)" font-size="15.6" fill="#0000ff" stroke="#0000ff" stroke-width="0.36">ADU</text> <text transform="translate(292.02,356.65) scale(1.1400,1)" font-size="15.6" fill="#0000ff" stroke="#0000ff" stroke-width="0.25" letter-spacing="0.956">(bottom)</text></g>
</svg></body></html>
